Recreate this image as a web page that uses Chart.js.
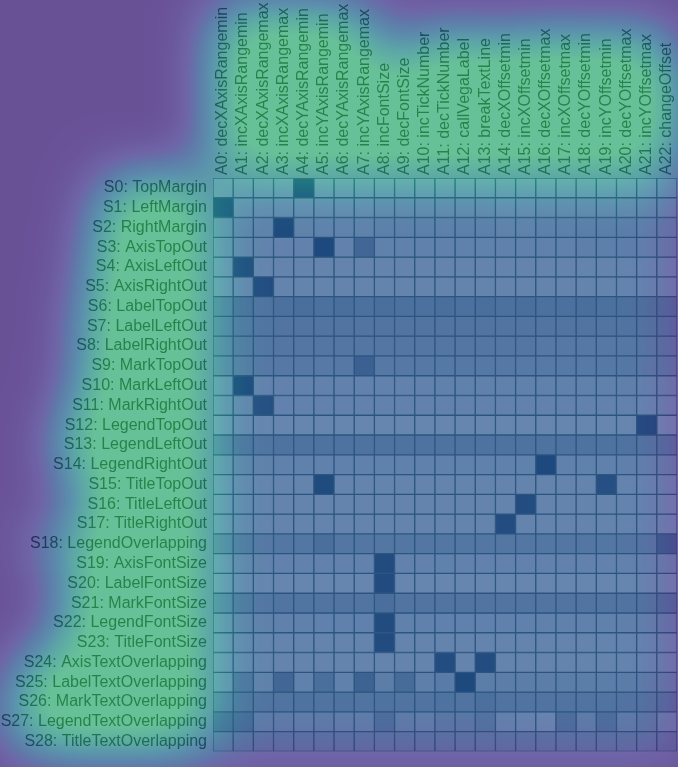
<!DOCTYPE html>
<html><head><meta charset="utf-8">
<script src="https://cdn.jsdelivr.net/npm/chart.js@4.4.1/dist/chart.umd.min.js"></script>
<style>html,body{margin:0;padding:0;background:#6b4f96;overflow:hidden}</style>
</head><body>
<canvas id="c" width="678" height="767"></canvas>
<script>
const colLabels = ["A0: decXAxisRangemin","A1: incXAxisRangemin","A2: decXAxisRangemax","A3: incXAxisRangemax","A4: decYAxisRangemin","A5: incYAxisRangemin","A6: decYAxisRangemax","A7: incYAxisRangemax","A8: incFontSize","A9: decFontSize","A10: incTickNumber","A11: decTickNumber","A12: callVegaLabel","A13: breakTextLine","A14: decXOffsetmin","A15: incXOffsetmin","A16: decXOffsetmax","A17: incXOffsetmax","A18: decYOffsetmin","A19: incYOffsetmin","A20: decYOffsetmax","A21: incYOffsetmax","A22: changeOffset"];
const rowLabels = ["S0: TopMargin","S1: LeftMargin","S2: RightMargin","S3: AxisTopOut","S4: AxisLeftOut","S5: AxisRightOut","S6: LabelTopOut","S7: LabelLeftOut","S8: LabelRightOut","S9: MarkTopOut","S10: MarkLeftOut","S11: MarkRightOut","S12: LegendTopOut","S13: LegendLeftOut","S14: LegendRightOut","S15: TitleTopOut","S16: TitleLeftOut","S17: TitleRightOut","S18: LegendOverlapping","S19: AxisFontSize","S20: LabelFontSize","S21: MarkFontSize","S22: LegendFontSize","S23: TitleFontSize","S24: AxisTextOverlapping","S25: LabelTextOverlapping","S26: MarkTextOverlapping","S27: LegendTextOverlapping","S28: TitleTextOverlapping"];
const values = [
[0.2,0.2,0.2,0.2,0.85,0.2,0.2,0.2,0.2,0.2,0.2,0.2,0.2,0.2,0.2,0.2,0.2,0.2,0.2,0.2,0.2,0.2,0.22],
[0.85,0.22,0.22,0.22,0.22,0.22,0.22,0.22,0.24,0.24,0.24,0.24,0.24,0.24,0.22,0.22,0.24,0.24,0.24,0.24,0.24,0.24,0.24],
[0.24,0.26,0.26,0.9,0.26,0.26,0.26,0.26,0.28,0.28,0.28,0.28,0.28,0.28,0.26,0.26,0.28,0.28,0.3,0.3,0.3,0.28,0.3],
[0.22,0.24,0.24,0.24,0.24,0.9,0.24,0.55,0.26,0.26,0.26,0.26,0.26,0.26,0.26,0.26,0.26,0.26,0.28,0.28,0.28,0.26,0.28],
[0.2,0.85,0.22,0.22,0.22,0.22,0.22,0.22,0.22,0.22,0.22,0.22,0.22,0.22,0.22,0.22,0.22,0.22,0.22,0.22,0.22,0.22,0.24],
[0.2,0.22,0.85,0.22,0.22,0.22,0.22,0.22,0.22,0.22,0.22,0.22,0.22,0.22,0.22,0.22,0.22,0.22,0.22,0.22,0.22,0.22,0.24],
[0.38,0.46,0.42,0.44,0.46,0.44,0.46,0.44,0.46,0.44,0.44,0.46,0.44,0.46,0.44,0.46,0.44,0.44,0.46,0.44,0.44,0.44,0.46],
[0.36,0.4,0.4,0.4,0.4,0.4,0.4,0.4,0.4,0.4,0.4,0.4,0.4,0.4,0.4,0.4,0.4,0.4,0.4,0.4,0.4,0.4,0.42],
[0.34,0.38,0.38,0.38,0.38,0.38,0.38,0.38,0.38,0.38,0.38,0.38,0.38,0.38,0.38,0.38,0.36,0.36,0.36,0.36,0.36,0.36,0.38],
[0.32,0.36,0.36,0.36,0.36,0.34,0.36,0.62,0.36,0.36,0.36,0.36,0.36,0.36,0.36,0.34,0.34,0.34,0.34,0.36,0.36,0.34,0.36],
[0.22,0.88,0.24,0.24,0.24,0.24,0.24,0.24,0.24,0.24,0.24,0.26,0.26,0.26,0.26,0.26,0.26,0.26,0.26,0.26,0.26,0.24,0.26],
[0.22,0.24,0.82,0.24,0.24,0.24,0.24,0.24,0.24,0.24,0.24,0.24,0.24,0.24,0.24,0.24,0.24,0.24,0.24,0.24,0.24,0.22,0.24],
[0.18,0.2,0.2,0.2,0.2,0.2,0.2,0.2,0.2,0.2,0.2,0.2,0.2,0.2,0.2,0.2,0.2,0.2,0.2,0.2,0.2,0.85,0.2],
[0.36,0.42,0.4,0.42,0.42,0.42,0.42,0.42,0.42,0.42,0.42,0.42,0.42,0.42,0.42,0.42,0.42,0.42,0.42,0.42,0.42,0.4,0.42],
[0.22,0.26,0.26,0.26,0.26,0.26,0.26,0.26,0.26,0.26,0.26,0.26,0.26,0.26,0.26,0.26,0.9,0.26,0.26,0.26,0.26,0.26,0.28],
[0.2,0.22,0.22,0.22,0.22,0.88,0.22,0.22,0.22,0.22,0.22,0.22,0.22,0.22,0.22,0.22,0.22,0.22,0.22,0.82,0.22,0.22,0.24],
[0.2,0.22,0.22,0.22,0.22,0.22,0.22,0.22,0.22,0.22,0.22,0.22,0.22,0.22,0.22,0.85,0.22,0.22,0.22,0.22,0.22,0.22,0.22],
[0.2,0.22,0.22,0.22,0.22,0.22,0.22,0.22,0.22,0.22,0.22,0.22,0.22,0.22,0.85,0.22,0.22,0.22,0.22,0.22,0.22,0.22,0.22],
[0.34,0.38,0.36,0.38,0.38,0.46,0.38,0.38,0.38,0.38,0.38,0.38,0.38,0.38,0.38,0.38,0.38,0.38,0.38,0.38,0.38,0.38,0.62],
[0.2,0.24,0.24,0.24,0.24,0.24,0.24,0.24,0.86,0.24,0.24,0.26,0.24,0.24,0.24,0.24,0.24,0.24,0.24,0.24,0.24,0.24,0.26],
[0.18,0.2,0.2,0.2,0.2,0.2,0.2,0.2,0.86,0.2,0.2,0.2,0.2,0.2,0.2,0.2,0.2,0.2,0.2,0.2,0.2,0.2,0.22],
[0.34,0.4,0.38,0.4,0.4,0.4,0.4,0.4,0.46,0.4,0.4,0.4,0.4,0.4,0.4,0.4,0.4,0.4,0.4,0.4,0.4,0.4,0.46],
[0.22,0.26,0.26,0.26,0.26,0.26,0.26,0.26,0.86,0.26,0.26,0.26,0.26,0.26,0.26,0.26,0.26,0.26,0.26,0.26,0.26,0.26,0.3],
[0.2,0.22,0.22,0.22,0.22,0.22,0.22,0.22,0.86,0.22,0.22,0.22,0.22,0.22,0.22,0.22,0.22,0.22,0.22,0.22,0.22,0.22,0.24],
[0.2,0.22,0.22,0.22,0.22,0.22,0.22,0.22,0.22,0.22,0.22,0.85,0.22,0.85,0.22,0.22,0.22,0.22,0.22,0.22,0.22,0.22,0.24],
[0.22,0.42,0.26,0.55,0.26,0.46,0.26,0.6,0.3,0.5,0.28,0.32,0.9,0.3,0.3,0.3,0.3,0.3,0.3,0.3,0.3,0.3,0.3],
[0.36,0.42,0.4,0.4,0.42,0.4,0.42,0.4,0.42,0.4,0.4,0.42,0.4,0.45,0.4,0.4,0.4,0.4,0.4,0.4,0.4,0.4,0.42],
[0.5,0.5,0.3,0.3,0.28,0.3,0.28,0.28,0.45,0.3,0.28,0.34,0.34,0.4,0.24,0.22,0.2,0.45,0.3,0.45,0.3,0.34,0.26],
[0.34,0.36,0.36,0.36,0.36,0.36,0.36,0.36,0.36,0.36,0.36,0.36,0.36,0.36,0.36,0.36,0.36,0.36,0.36,0.36,0.36,0.36,0.38]
];

const FONT_SIZE = 16;
const FONT_FAMILY = '"Liberation Sans", Arial, sans-serif';

function cellColor(v) {
  const lo = [235, 235, 250], hi = [8, 42, 92];
  const c = lo.map((l, k) => Math.round(l + (hi[k] - l) * v));
  return `rgb(${c[0]},${c[1]},${c[2]})`;
}

// overlay colormap (purple -> blue -> teal -> green)
const STOPS = [
  [0.0, [48, 8, 105]],
  [0.2, [58, 42, 135]],
  [0.35, [30, 80, 140]],
  [0.55, [22, 125, 145]],
  [0.75, [26, 170, 132]],
  [1.0, [45, 212, 108]]
];
const LUT = [];
for (let i = 0; i < 256; i++) {
  const t = i / 255;
  let k = 0;
  while (k < STOPS.length - 2 && t > STOPS[k + 1][0]) k++;
  const [t0, c0] = STOPS[k], [t1, c1] = STOPS[k + 1];
  const f = Math.max(0, Math.min(1, (t - t0) / (t1 - t0)));
  LUT.push(c0.map((v, j) => v + (c1[j] - v) * f));
}

const glowPlugin = {
  id: 'glow',
  beforeDraw(chart) {
    const c = chart.ctx;
    c.save(); c.fillStyle = 'rgb(175,170,205)'; c.fillRect(0, 0, chart.width, chart.height); c.restore();
  },
  afterDraw(chart) {
    const ctx = chart.ctx, W = chart.width, H = chart.height;
    const ca = chart.chartArea, xs = chart.scales.x, ys = chart.scales.y;
    const GAIN = 2.0, PAD = 100;
    const mask = document.createElement('canvas'); mask.width = W + 2 * PAD; mask.height = H + 2 * PAD;
    const m = mask.getContext('2d');
    m.translate(PAD, PAD);
    m.fillStyle = `rgba(255,255,255,${0.36 / GAIN})`;
    m.fillRect(ca.left, ca.top, ca.right - ca.left + 6, ca.bottom - ca.top + 10);
    m.fillStyle = '#fff';
    m.font = `${FONT_SIZE}px ${FONT_FAMILY}`;
    colLabels.forEach((l, i) => {
      const cx = xs.getPixelForTick(i), w = m.measureText(l).width;
      m.fillRect(cx - 6, xs.bottom - 3 - w, 12, w);
    });
    rowLabels.forEach((l, i) => {
      const cy = ys.getPixelForValue(i), w = m.measureText(l).width;
      m.fillRect(ys.right - 6 - w, cy - 6, w, 12);
    });
    const heat = document.createElement('canvas'); heat.width = W + 2 * PAD; heat.height = H + 2 * PAD;
    const h = heat.getContext('2d');
    h.fillStyle = '#000'; h.fillRect(0, 0, heat.width, heat.height);
    h.filter = 'blur(30px)';
    h.drawImage(mask, 0, 0);
    const hd = h.getImageData(PAD, PAD, W, H).data;
    const img = ctx.getImageData(0, 0, W, H), d = img.data;
    const A = 0.55;
    for (let p = 0; p < d.length; p += 4) {
      const t = Math.min(255, Math.round(hd[p] * GAIN));
      const c = LUT[t];
      d[p] = A * c[0] + (1 - A) * d[p];
      d[p + 1] = A * c[1] + (1 - A) * d[p + 1];
      d[p + 2] = A * c[2] + (1 - A) * d[p + 2];
      d[p + 3] = 255;
    }
    ctx.putImageData(img, 0, 0);
  }
};

new Chart(document.getElementById('c'), {
  type: 'bar',
  data: {
    labels: colLabels,
    datasets: rowLabels.map((r, ri) => ({
      label: r,
      data: colLabels.map(() => [ri - 0.5, ri + 0.5]),
      backgroundColor: values[ri].map(cellColor),
      borderColor: 'rgb(60,90,110)',
      borderWidth: 1,
      borderSkipped: false,
      grouped: false,
      barPercentage: 1,
      categoryPercentage: 1
    }))
  },
  options: {
    responsive: false,
    animation: false,
    events: [],
    layout: { padding: { top: 0, right: 1, bottom: 3, left: 0 } },
    plugins: { legend: { display: false }, tooltip: { enabled: false } },
    scales: {
      x: {
        type: 'category',
        position: 'top',
        grid: { display: false, drawTicks: false },
        border: { display: false },
        ticks: { minRotation: 90, maxRotation: 90, autoSkip: false, padding: 3, labelOffset: 19, color: '#202020',
                 font: { size: FONT_SIZE, family: FONT_FAMILY } },
        afterFit: s => { s.height = 178; }
      },
      y: {
        type: 'linear',
        min: -0.5, max: 28.5, reverse: true, bounds: 'data',
        grid: { display: false, drawTicks: false },
        border: { display: false },
        afterBuildTicks: s => { s.ticks = rowLabels.map((_, i) => ({ value: i })); },
        ticks: { autoSkip: false, padding: 6, color: '#202020',
                 font: { size: FONT_SIZE, family: FONT_FAMILY },
                 callback: v => rowLabels[v] },
        afterFit: s => { s.width = 213; }
      }
    }
  },
  plugins: [glowPlugin]
});
</script>
</body></html>
